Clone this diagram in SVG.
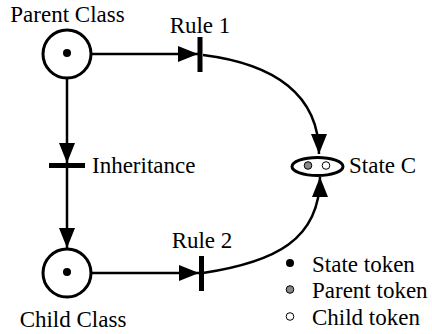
<svg xmlns="http://www.w3.org/2000/svg" width="432" height="334" viewBox="0 0 432 334">
  <style>
    .place { fill: #fff; stroke: #000; stroke-width: 3; }
    .bar { fill: #000; }
    .arc { fill: none; stroke: #000; stroke-width: 2.5; }
    .tok { stroke: #000; stroke-width: 1; }
  </style>
  <defs>
    <marker id="arrow" markerUnits="userSpaceOnUse" viewBox="0 0 20 16" refX="20" refY="8" markerWidth="20" markerHeight="16" orient="auto">
      <path d="M0,0 L20,8 L0,16 Z" fill="#000"/>
    </marker>
  </defs>

  <!-- arcs of the net -->
  <g id="connectors">
    <path class="arc" d="M92,54 L198,54" marker-end="url(#arrow)"/>
    <path class="arc" d="M67,78 L67,163" marker-end="url(#arrow)"/>
    <path class="arc" d="M67,168 L67,248" marker-end="url(#arrow)"/>
    <path class="arc" d="M92,273 L199,273" marker-end="url(#arrow)"/>
    <path class="arc" d="M203,55 C275,64 319,95 319,154" marker-end="url(#arrow)"/>
    <path class="arc" d="M203,273 C275,262 320,240 320,177" marker-end="url(#arrow)"/>
  </g>

  <g font-family="'Liberation Serif', 'Times New Roman', 'DejaVu Serif', serif" font-size="23" fill="#000">
    <!-- places -->
    <g id="parent-class">
      <circle class="place" cx="67" cy="54" r="24"/>
      <circle cx="67" cy="53" r="4" fill="#000"/>
      <text x="67.5" y="22" text-anchor="middle">Parent Class</text>
    </g>
    <g id="child-class">
      <circle class="place" cx="67" cy="273" r="24"/>
      <circle cx="67" cy="272" r="4" fill="#000"/>
      <text x="73" y="327" text-anchor="middle">Child Class</text>
    </g>
    <g id="state-c">
      <ellipse class="place" cx="317.5" cy="166.5" rx="25.5" ry="9"/>
      <circle class="tok" cx="308" cy="165.5" r="3.8" fill="#888"/>
      <circle class="tok" cx="326" cy="165.5" r="3.8" fill="#fff"/>
      <text x="349" y="173">State C</text>
    </g>

    <!-- transitions -->
    <g id="rule-1">
      <rect class="bar" x="197.5" y="37" width="5" height="35"/>
      <text x="200" y="33" text-anchor="middle">Rule 1</text>
    </g>
    <g id="inheritance">
      <rect class="bar" x="49" y="163" width="36" height="5"/>
      <text x="92" y="173">Inheritance</text>
    </g>
    <g id="rule-2">
      <rect class="bar" x="199" y="256" width="5" height="35"/>
      <text x="202" y="248" text-anchor="middle">Rule 2</text>
    </g>

    <!-- legend -->
    <g id="legend">
      <circle cx="290" cy="263" r="4" fill="#000"/>
      <text x="312" y="272">State token</text>
      <circle class="tok" cx="290" cy="289.5" r="3.8" fill="#888"/>
      <text x="312" y="298">Parent token</text>
      <circle class="tok" cx="290" cy="316.5" r="3.8" fill="#fff"/>
      <text x="312" y="325">Child token</text>
    </g>
  </g>
</svg>
